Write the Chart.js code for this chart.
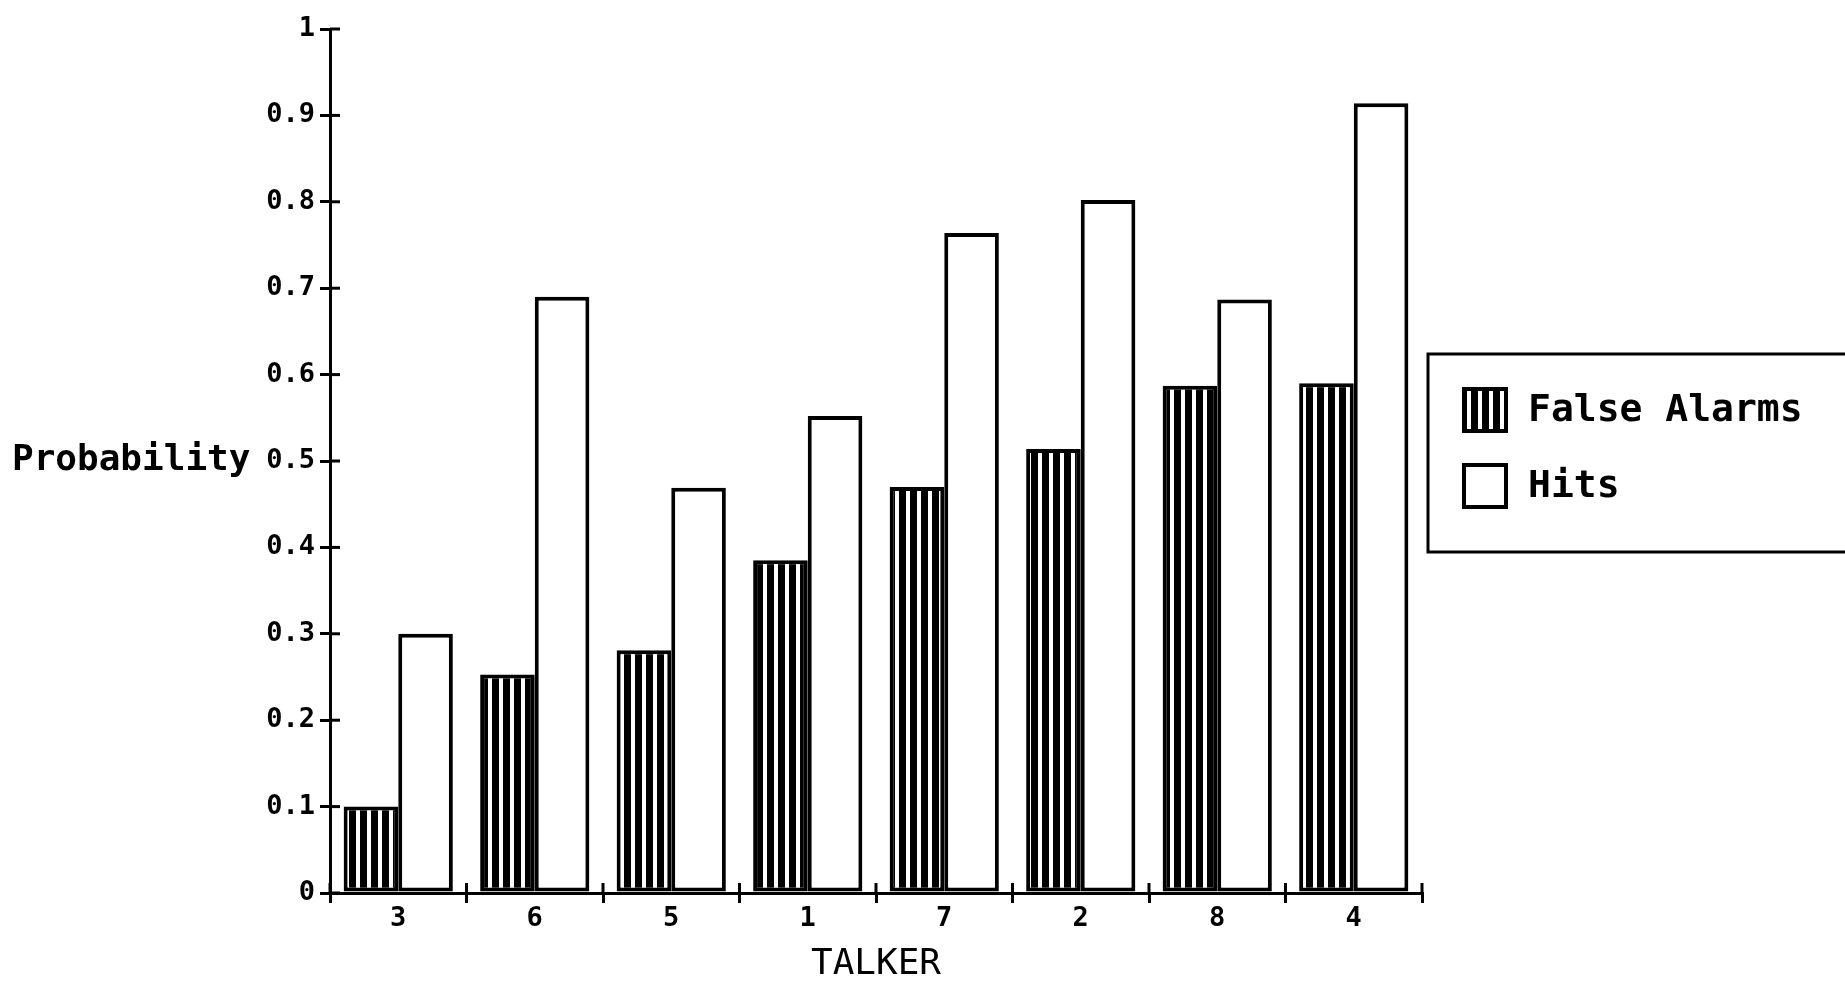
<!DOCTYPE html>
<html>
<head>
<meta charset="utf-8">
<title>False alarms and hits by talker</title>
<script src="https://cdn.jsdelivr.net/npm/chart.js@4.4.1/dist/chart.umd.min.js"></script>
<style>
  html, body { margin: 0; padding: 0; background: #fff; }
</style>
</head>
<body>
<canvas id="chart" width="1845" height="986"></canvas>
<script>
const talkers = ['3', '6', '5', '1', '7', '2', '8', '4'];
const falseAlarms = [0.10, 0.253, 0.281, 0.385, 0.47, 0.514, 0.587, 0.59];
const hits = [0.30, 0.69, 0.469, 0.552, 0.764, 0.802, 0.687, 0.914];
const seriesNames = ['False Alarms', 'Hits'];
const yTitle = 'Probability';
const xTitle = 'TALKER';

const MONO = '"DejaVu Sans Mono", "Liberation Mono", monospace';

const canvas = document.getElementById('chart');
const ctx = canvas.getContext('2d');

// vertical stripes: black with thin white lines
function stripePattern() {
  const c = document.createElement('canvas');
  c.width = 11;
  c.height = 10;
  const g = c.getContext('2d');
  g.fillStyle = '#000';
  g.fillRect(0, 0, 11, 10);
  g.fillStyle = '#fff';
  g.fillRect(4, 0, 4, 10);
  return ctx.createPattern(c, 'repeat');
}

// ticks in the old plot cross the axis line, chart.js only draws the outer half
const crossTicks = {
  id: 'crossTicks',
  afterDraw(chart) {
    const c = chart.ctx;
    const x = chart.scales.x;
    const y = chart.scales.y;
    c.save();
    c.strokeStyle = '#000';
    c.lineWidth = 3;
    y.ticks.forEach((t, i) => {
      const py = y.getPixelForTick(i);
      c.beginPath();
      c.moveTo(y.right, py);
      c.lineTo(y.right + 10, py);
      c.stroke();
    });
    for (let i = 0; i <= talkers.length; i++) {
      const px = x.getPixelForValue(i - 0.5);
      c.beginPath();
      c.moveTo(px, x.top);
      c.lineTo(px, x.top - 10);
      c.stroke();
    }
    c.restore();
  }
};

// horizontal y title, left of the tick labels
const sideTitle = {
  id: 'sideTitle',
  afterDraw(chart) {
    const c = chart.ctx;
    const mid = chart.scales.y.getPixelForValue(0.5);
    c.save();
    c.fillStyle = '#000';
    c.font = 'bold 36px ' + MONO;
    c.textBaseline = 'middle';
    c.textAlign = 'left';
    c.fillText(yTitle, 12, mid);
    c.restore();
  }
};

// legend with a frame running off the right edge
const boxedLegend = {
  id: 'boxedLegend',
  afterDraw(chart) {
    const c = chart.ctx;
    const area = chart.chartArea;
    const mid = chart.scales.y.getPixelForValue(0.5);
    const left = area.right + 6;
    const top = mid - 107;
    const bottom = mid + 91;
    c.save();
    c.strokeStyle = '#000';
    c.lineWidth = 3;
    c.strokeRect(left, top, chart.width - left + 20, bottom - top);
    chart.data.datasets.forEach((ds, i) => {
      const bx = area.right + 40;
      const by = top + 33 + i * 76;
      c.fillStyle = ds.backgroundColor;
      c.fillRect(bx, by, 46, 46);
      c.lineWidth = 4;
      c.strokeRect(bx + 2, by + 2, 42, 42);
      c.fillStyle = '#000';
      c.font = 'bold 38px ' + MONO;
      c.textBaseline = 'middle';
      c.textAlign = 'left';
      c.fillText(ds.label, bx + 66, by + 24);
    });
    c.restore();
  }
};

new Chart(ctx, {
  type: 'bar',
  data: {
    labels: talkers,
    datasets: [
      {
        label: seriesNames[0],
        data: falseAlarms,
        backgroundColor: stripePattern(),
        borderColor: '#000',
        borderWidth: 4,
        borderSkipped: false,
        categoryPercentage: 0.8,
        barPercentage: 1.0
      },
      {
        label: seriesNames[1],
        data: hits,
        backgroundColor: '#fff',
        borderColor: '#000',
        borderWidth: 4,
        borderSkipped: false,
        categoryPercentage: 0.8,
        barPercentage: 1.0
      }
    ]
  },
  options: {
    responsive: false,
    animation: false,
    devicePixelRatio: 1,
    layout: { padding: { left: 260, right: 423, top: 29, bottom: 0 } },
    plugins: {
      legend: { display: false },
      tooltip: { enabled: false }
    },
    scales: {
      x: {
        grid: { offset: true, drawOnChartArea: false, tickLength: 10, color: '#000', lineWidth: 3 },
        border: { color: '#000', width: 3 },
        ticks: { color: '#000', padding: 0, font: { family: MONO, size: 27, weight: 'bold' } },
        title: {
          display: true,
          text: xTitle,
          color: '#000',
          padding: { top: 0, bottom: 0 },
          font: { family: MONO, size: 36 }
        },
        afterFit(scale) { scale.height = 93; }
      },
      y: {
        min: 0,
        max: 1,
        grid: { drawOnChartArea: false, tickLength: 10, color: '#000', lineWidth: 3 },
        border: { color: '#000', width: 3 },
        ticks: {
          stepSize: 0.1,
          color: '#000',
          padding: 5,
          font: { family: MONO, size: 27, weight: 'bold' },
          callback: v => String(Math.round(v * 10) / 10)
        },
        afterFit(scale) { scale.width = 70; }
      }
    }
  },
  plugins: [crossTicks, sideTitle, boxedLegend]
});
</script>
</body>
</html>
